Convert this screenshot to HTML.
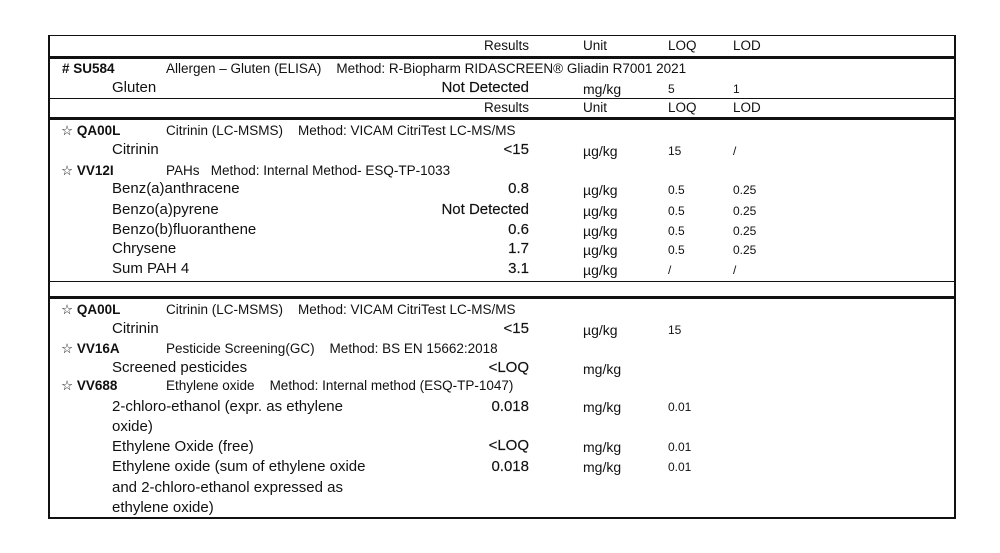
<!DOCTYPE html>
<html><head><meta charset="utf-8"><style>
body{margin:0;width:1000px;height:553px;background:#fff;position:relative;overflow:hidden;font-family:"Liberation Sans",Arial,sans-serif;color:#111}
.t{position:absolute;white-space:nowrap;line-height:1}
.l{position:absolute;background:#111}
.s{font-size:13.5px}.a{font-size:15px}.r{font-size:15px;text-align:right;width:300px;-webkit-text-stroke:0.15px #111}
.u{font-size:14px}.q{font-size:12px}
</style></head><body>
<div class="l" style="left:48px;top:35px;width:2px;height:483px"></div>
<div class="l" style="left:954px;top:35px;width:2px;height:483px"></div>
<div class="l" style="left:48px;top:35px;width:908px;height:1px"></div>
<div class="l" style="left:48px;top:517px;width:908px;height:2px"></div>
<div class="l" style="left:48px;top:56px;width:908px;height:3px"></div>
<div class="l" style="left:48px;top:98px;width:908px;height:1px"></div>
<div class="l" style="left:48px;top:117px;width:908px;height:3px"></div>
<div class="l" style="left:48px;top:281px;width:908px;height:1px"></div>
<div class="l" style="left:48px;top:296px;width:908px;height:3px"></div>

<div class="t s" style="left:484px;top:39px">Results</div>
<div class="t s" style="left:583px;top:39px">Unit</div>
<div class="t s" style="left:668px;top:39px">LOQ</div>
<div class="t s" style="left:733px;top:39px">LOD</div>

<div class="t s" style="left:62px;top:62px;font-weight:bold">#&nbsp;SU584</div>
<div class="t s" style="left:166px;top:62px">Allergen – Gluten (ELISA) &nbsp;&nbsp;&nbsp;Method: R-Biopharm RIDASCREEN® Gliadin R7001 2021</div>
<div class="t a" style="left:112px;top:80px">Gluten</div>
<div class="t r" style="left:229px;top:80px">Not Detected</div>
<div class="t u" style="left:583px;top:82px">mg/kg</div>
<div class="t q" style="left:668px;top:83px">5</div>
<div class="t q" style="left:733px;top:83px">1</div>

<div class="t s" style="left:484px;top:101px">Results</div>
<div class="t s" style="left:583px;top:101px">Unit</div>
<div class="t s" style="left:668px;top:101px">LOQ</div>
<div class="t s" style="left:733px;top:101px">LOD</div>

<div class="t s" style="left:61px;top:124px">☆ <b>QA00L</b></div>
<div class="t s" style="left:166px;top:124px">Citrinin (LC-MSMS) &nbsp;&nbsp;&nbsp;Method: VICAM CitriTest LC-MS/MS</div>
<div class="t a" style="left:112px;top:142px">Citrinin</div>
<div class="t r" style="left:229px;top:142px">&lt;15</div>
<div class="t u" style="left:583px;top:144px">µg/kg</div>
<div class="t q" style="left:668px;top:145px">15</div>
<div class="t q" style="left:733px;top:145px">/</div>

<div class="t s" style="left:61px;top:164px">☆ <b>VV12I</b></div>
<div class="t s" style="left:166px;top:164px">PAHs &nbsp;&nbsp;Method: Internal Method- ESQ-TP-1033</div>

<div class="t a" style="left:112px;top:181px">Benz(a)anthracene</div>
<div class="t r" style="left:229px;top:181px">0.8</div>
<div class="t u" style="left:583px;top:183px">µg/kg</div>
<div class="t q" style="left:668px;top:184px">0.5</div>
<div class="t q" style="left:733px;top:184px">0.25</div>

<div class="t a" style="left:112px;top:202px">Benzo(a)pyrene</div>
<div class="t r" style="left:229px;top:202px">Not Detected</div>
<div class="t u" style="left:583px;top:204px">µg/kg</div>
<div class="t q" style="left:668px;top:205px">0.5</div>
<div class="t q" style="left:733px;top:205px">0.25</div>

<div class="t a" style="left:112px;top:222px">Benzo(b)fluoranthene</div>
<div class="t r" style="left:229px;top:222px">0.6</div>
<div class="t u" style="left:583px;top:224px">µg/kg</div>
<div class="t q" style="left:668px;top:225px">0.5</div>
<div class="t q" style="left:733px;top:225px">0.25</div>

<div class="t a" style="left:112px;top:241px">Chrysene</div>
<div class="t r" style="left:229px;top:241px">1.7</div>
<div class="t u" style="left:583px;top:243px">µg/kg</div>
<div class="t q" style="left:668px;top:244px">0.5</div>
<div class="t q" style="left:733px;top:244px">0.25</div>

<div class="t a" style="left:112px;top:261px">Sum PAH 4</div>
<div class="t r" style="left:229px;top:261px">3.1</div>
<div class="t u" style="left:583px;top:263px">µg/kg</div>
<div class="t q" style="left:668px;top:264px">/</div>
<div class="t q" style="left:733px;top:264px">/</div>

<div class="t s" style="left:61px;top:303px">☆ <b>QA00L</b></div>
<div class="t s" style="left:166px;top:303px">Citrinin (LC-MSMS) &nbsp;&nbsp;&nbsp;Method: VICAM CitriTest LC-MS/MS</div>
<div class="t a" style="left:112px;top:321px">Citrinin</div>
<div class="t r" style="left:229px;top:321px">&lt;15</div>
<div class="t u" style="left:583px;top:323px">µg/kg</div>
<div class="t q" style="left:668px;top:324px">15</div>

<div class="t s" style="left:61px;top:342px">☆ <b>VV16A</b></div>
<div class="t s" style="left:166px;top:342px">Pesticide Screening(GC) &nbsp;&nbsp;&nbsp;Method: BS EN 15662:2018</div>
<div class="t a" style="left:112px;top:360px">Screened pesticides</div>
<div class="t r" style="left:229px;top:360px">&lt;LOQ</div>
<div class="t u" style="left:583px;top:362px">mg/kg</div>

<div class="t s" style="left:61px;top:379px">☆ <b>VV688</b></div>
<div class="t s" style="left:166px;top:379px">Ethylene oxide &nbsp;&nbsp;&nbsp;Method: Internal method (ESQ-TP-1047)</div>

<div class="t a" style="left:112px;top:397px;line-height:20px">2-chloro-ethanol (expr. as ethylene<br>oxide)</div>
<div class="t r" style="left:229px;top:399px">0.018</div>
<div class="t u" style="left:583px;top:400px">mg/kg</div>
<div class="t q" style="left:668px;top:401px">0.01</div>

<div class="t a" style="left:112px;top:439px">Ethylene Oxide (free)</div>
<div class="t r" style="left:229px;top:438px">&lt;LOQ</div>
<div class="t u" style="left:583px;top:440px">mg/kg</div>
<div class="t q" style="left:668px;top:441px">0.01</div>

<div class="t a" style="left:112px;top:457px;line-height:20.5px">Ethylene oxide (sum of ethylene oxide<br>and 2-chloro-ethanol expressed as<br>ethylene oxide)</div>
<div class="t r" style="left:229px;top:459px">0.018</div>
<div class="t u" style="left:583px;top:460px">mg/kg</div>
<div class="t q" style="left:668px;top:461px">0.01</div>
</body></html>
